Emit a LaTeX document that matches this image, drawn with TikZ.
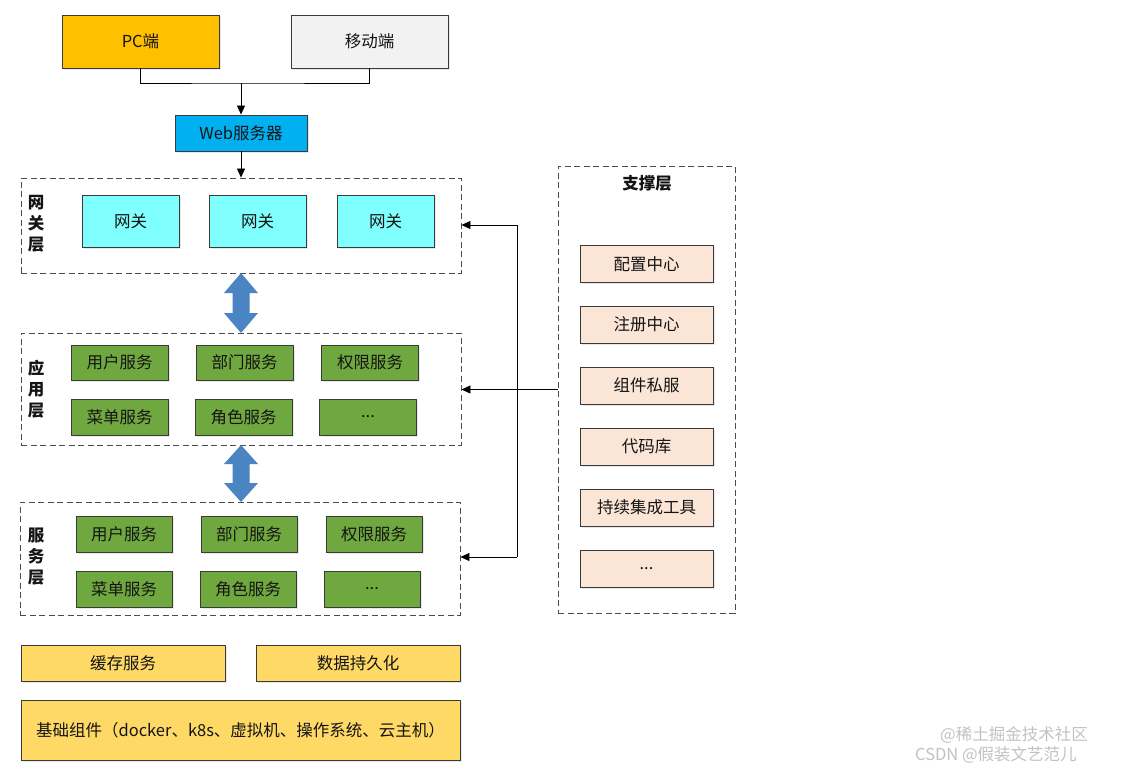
\documentclass[tikz,border=0pt]{standalone}
\usepackage{fontspec}
\setmainfont{Noto Sans CJK SC}
\usetikzlibrary{arrows.meta,shadows}
\definecolor{pcc}{HTML}{FFC000}
\definecolor{mobc}{HTML}{F2F2F2}
\definecolor{webc}{HTML}{00B0F0}
\definecolor{gwc}{HTML}{80FFFF}
\definecolor{grc}{HTML}{70A840}
\definecolor{ylc}{HTML}{FFD966}
\definecolor{pkc}{HTML}{FBE5D6}
\definecolor{blc}{HTML}{4A84C2}
\definecolor{txc}{HTML}{141414}
\definecolor{bdc}{HTML}{3A3A3A}
\tikzset{
  box/.style={draw=bdc, line width=0.9pt, inner sep=0pt, text=txc,
    font=\fontsize{16.5}{20}\selectfont,
    drop shadow={shadow xshift=1.5pt, shadow yshift=-1.5pt, opacity=0.18}},
  layer/.style={draw=black!70, line width=0.9pt, dash pattern=on 6pt off 3.5pt, inner sep=0pt},
  lbl/.style={font=\fontsize{16.5}{21}\selectfont\bfseries, align=center, text=txc},
  conn/.style={draw=black, line width=0.8pt},
  arr/.style={conn, -{Triangle[length=9pt,width=8pt]}},
  fat/.style={fill=blc, draw=none},
  wm/.style={text=black!30, font=\fontsize{16.5}{18}\selectfont, opacity=0.8, inner sep=0pt}
}
\begin{document}
\begin{tikzpicture}[x=1pt,y=-1pt]
\useasboundingbox (0,0) rectangle (1122,771);
% top clients
\node[box, fill=pcc, minimum width=157, minimum height=53] (pc) at (140.5,41.5) {PC端};
\node[box, fill=mobc, minimum width=157, minimum height=53] (mob) at (369.5,41.5) {移动端};
\node[box, fill=webc, minimum width=132, minimum height=36] (web) at (241,133) {Web服务器};
\coordinate (j) at (241,83);
\draw[conn] (pc.south) |- (j) -| (mob.south);
\draw[arr] (j) -- (web.north);
% gateway layer
\node[layer, minimum width=440, minimum height=95] (gw) at (241,225.5) {};
\node[lbl] (gwl) at (36,224) {网\\关\\层};
\node[box, fill=gwc, minimum width=97, minimum height=52] (g1) at (130.5,221) {网关};
\node[box, fill=gwc, minimum width=97, minimum height=52] (g2) at (257.5,221) {网关};
\node[box, fill=gwc, minimum width=97, minimum height=52] (g3) at (385.5,221) {网关};
\draw[arr] (web.south) -- (gw.north);
% application layer
\node[layer, minimum width=440, minimum height=112] (app) at (241,389) {};
\node[lbl] (appl) at (36,389) {应\\用\\层};
\node[box, fill=grc, minimum width=97, minimum height=35] (a1) at (119.5,362.5) {用户服务};
\node[box, fill=grc, minimum width=97, minimum height=35] (a2) at (244.5,362.5) {部门服务};
\node[box, fill=grc, minimum width=97, minimum height=35] (a3) at (370,362.5) {权限服务};
\node[box, fill=grc, minimum width=97, minimum height=36] (a4) at (119.5,417) {菜单服务};
\node[box, fill=grc, minimum width=97, minimum height=36] (a5) at (243.5,417) {角色服务};
\node[box, fill=grc, minimum width=97, minimum height=36] (a6) at (368,417) {...};
% service layer
\node[layer, minimum width=440, minimum height=113] (svc) at (240,558.5) {};
\node[lbl] (svcl) at (36,557) {服\\务\\层};
\node[box, fill=grc, minimum width=96, minimum height=36] (s1) at (124,534) {用户服务};
\node[box, fill=grc, minimum width=96, minimum height=36] (s2) at (249,534) {部门服务};
\node[box, fill=grc, minimum width=96, minimum height=36] (s3) at (374,534) {权限服务};
\node[box, fill=grc, minimum width=96, minimum height=36] (s4) at (124,589) {菜单服务};
\node[box, fill=grc, minimum width=96, minimum height=36] (s5) at (248,589) {角色服务};
\node[box, fill=grc, minimum width=96, minimum height=36] (s6) at (372,589) {...};
% fat double arrows
\fill[fat] (241,273) -- (258,293) -- (249.5,293) -- (249.5,313) -- (258,313)
  -- (241,333) -- (224,313) -- (232.5,313) -- (232.5,293) -- (224,293) -- cycle;
\fill[fat] (241,445) -- (258,464) -- (249.5,464) -- (249.5,483) -- (258,483)
  -- (241,502) -- (224,483) -- (232.5,483) -- (232.5,464) -- (224,464) -- cycle;
% infrastructure
\node[box, fill=ylc, minimum width=204, minimum height=36] (c1) at (123,663) {缓存服务};
\node[box, fill=ylc, minimum width=204, minimum height=36] (c2) at (358,663) {数据持久化};
\node[box, fill=ylc, minimum width=439, minimum height=60] (base) at (240.5,730) {基础组件（docker、k8s、虚拟机、操作系统、云主机）};
% support layer
\node[layer, minimum width=177, minimum height=447] (sup) at (646.5,389.5) {};
\node[lbl] (supl) at (647,183) {支撑层};
\node[box, fill=pkc, minimum width=133, minimum height=37] (p1) at (646.5,264) {配置中心};
\node[box, fill=pkc, minimum width=133, minimum height=37] (p2) at (646.5,324.5) {注册中心};
\node[box, fill=pkc, minimum width=133, minimum height=37] (p3) at (646.5,385.5) {组件私服};
\node[box, fill=pkc, minimum width=133, minimum height=37] (p4) at (646.5,446.5) {代码库};
\node[box, fill=pkc, minimum width=133, minimum height=37] (p5) at (646.5,507.5) {持续集成工具};
\node[box, fill=pkc, minimum width=133, minimum height=37] (p6) at (646.5,568.5) {...};
% support connectors
\coordinate (b1) at (517,225);
\coordinate (b2) at (517,557);
\draw[conn] (b1) -- (b2);
\draw[arr] (sup.west) -- (app.east |- sup.west);
\draw[arr] (b1) -- (gw.east |- b1);
\draw[arr] (b2) -- (svc.east |- b2);
% watermarks
\node[wm, anchor=west] (wm1) at (940,735) {@稀土掘金技术社区};
\node[wm, anchor=west] (wm2) at (915,755) {CSDN @假装文艺范儿};
\end{tikzpicture}
\end{document}
